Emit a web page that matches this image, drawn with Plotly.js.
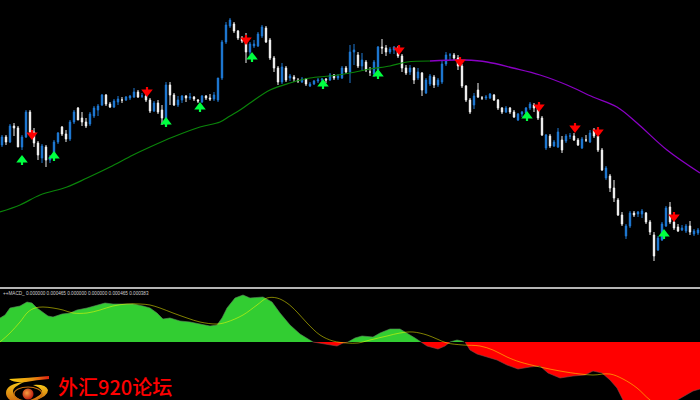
<!DOCTYPE html>
<html>
<head>
<meta charset="utf-8">
<script src="https://cdn.plot.ly/plotly-3.0.1.min.js"></script>
<style>html,body{margin:0;padding:0;background:#000}#c{width:700px;height:400px}</style>
</head>
<body>
<div id="c"></div>
<script>
// Candles: one value per bar (vertical scale runs downwards)
const barOpen = [145,137,142,126,128,147,137,112,132,143,158,147,160,157,142,127,134,139,122,108,118,122,124,116,110,105,95,104,107,102,100,100,98,97,92,96,96,100,111,103,110,125,85,95,105,100,96,98,97,100,102,96,98,99,100,78,42,26,24,31,38,40,52,46,46,36,28,40,58,68,82,68,78,77,80,82,79,86,84,81,80,79,80,75,78,78,68,72,52,55,66,62,72,74,70,47,48,52,50,48,56,68,72,68,78,73,93,84,77,85,82,64,55,55,58,66,86,100,105,90,98,98,98,95,100,108,112,108,112,120,114,113,108,105,108,118,148,136,146,147,140,141,136,136,140,148,140,142,130,136,150,178,176,188,200,215,236,226,213,214,214,213,222,235,250,240,226,207,222,227,230,231,226,234,233];
const barHigh = [135,135,124,123,126,135,110,110,128,141,144,145,155,140,132,126,130,120,110,107,112,118,112,106,104,94,94,102,99,96,97,96,95,88,90,93,90,98,101,100,105,82,82,93,96,95,95,93,96,99,95,95,94,92,78,40,22,18,22,30,36,33,42,40,32,25,26,38,56,66,63,66,74,75,78,77,78,82,80,78,78,78,73,74,74,66,66,45,44,52,53,60,67,60,46,39,45,47,46,46,54,65,65,67,68,72,78,74,75,78,60,52,53,53,55,64,85,98,93,83,96,95,93,94,99,107,106,107,110,113,111,107,102,103,106,116,134,134,140,128,136,134,133,133,138,137,135,130,128,134,148,166,174,180,198,212,224,211,211,211,209,212,220,232,236,222,206,202,220,224,225,224,221,229,228];
const barLow = [147,145,143,136,146,150,138,134,147,160,163,167,163,160,144,136,142,141,124,120,126,128,126,118,116,106,106,108,108,105,103,101,100,98,98,98,102,113,112,114,125,127,105,106,107,103,102,100,101,103,103,100,101,101,102,80,44,28,33,40,43,63,55,48,47,38,43,60,72,85,84,82,81,82,83,83,86,87,85,83,82,83,81,80,80,79,74,83,65,68,70,72,76,77,72,54,56,54,54,58,72,75,75,84,80,96,94,86,88,87,84,66,60,60,70,88,102,114,109,98,100,100,99,101,110,114,113,114,118,121,117,115,110,112,120,136,150,148,147,148,153,143,139,141,146,149,142,143,138,152,171,180,192,202,216,226,239,228,217,217,218,224,235,261,251,241,227,224,230,232,231,233,235,236,235];
const barClose = [137,142,126,128,147,137,112,132,143,155,146,160,157,142,133,134,139,122,112,120,122,126,114,108,106,95,104,107,101,99,100,97,96,92,97,96,100,111,103,112,118,85,95,105,100,96,98,97,99,101,96,98,99,95,78,42,25,20,31,38,41,52,44,44,34,27,42,58,68,82,67,80,76,79,81,79,84,84,81,80,79,80,75,78,76,68,72,52,50,66,60,70,72,62,47,48,52,49,47,56,68,73,68,80,72,90,80,76,85,80,64,55,55,58,66,86,100,112,96,97,98,97,94,100,108,112,108,112,117,114,112,108,104,108,118,135,135,146,142,132,150,136,136,140,145,139,140,133,136,150,170,168,188,198,215,224,226,213,215,212,211,222,232,256,238,224,208,222,228,231,228,226,232,231,230];

// Moving average, green part then purple part
const maGreenBar = [-0.5,4.5,9.5,16.25,21.25,27,32.75,37,42.75,49.5,54.5,57,59.5,62,67,72,77,82,87,92,97,101.25,107];
const maGreenY   = [212,205,195,187,178,167,155,147,137,127,122,116,110,103,90,83,78,76,73,69,66,62,61];
const maPurpleBar = [107,113.75,115.75,121.25,127.75,134.5,141.25,147.75,153.75,158.75,166.25,174.5];
const maPurpleY   = [61,60,60,62,68,75,85,97,107,123,150,173];

// Signal arrows: the y is the middle of each arrow head
const upBar = [5,13,41,49.5,62.5,80.25,94,131.25,165.5];
const upHead = [160,156,122,107,57,84,74,116,234];
const upTail = [5,5,5,5,5,5,5,5,5];
const upNone = [0,0,0,0,0,0,0,0,0];
const downBar = [7.5,36.25,61,99.25,114.5,134.25,143.25,149,168];
const downHead = [135,92,40,50,62,107,128,132,217];
const downTail = [5,5,5,5,5,5,5,5,5];
const downNone = [0,0,0,0,0,0,0,0,0];

// MACD histogram heights above (green) and below (red) the zero line
const greenBar = [-0.5,0.75,2,3.25,4.5,6.25,7.5,8.75,10,11.5,12.75,15,17,18.75,21.25,23.75,25.75,27.75,30.25,32.75,35.25,37,38.75,40.25,42,44.5,47,49.5,52,53.75,55,56.25,57.75,58.25,60.25,62,65.25,67.5,69.5,72,74.5,77.75,80,86.5,88.25,90,92.75,94.5,97,99.5,101.25,103.25,104.75,108,112,113.75,115,115.5];
const greenH   = [24,27,34,35,36,40,39,34,30,26,25,28,29,32,34,37,39,38,38,38,36,34,29,23,24,21,20,18,16,17,24,34,42,44,47,44,45,40,29,17,8,0,null,0,4,6,5,9,13,13,9,4,0,null,0,2,1,0];
const redBar   = [77.75,80.75,83.75,85.25,86.5,95,104.75,106.25,109,110.75,112,114,115.75,117,118.75,121.25,123.75,126.25,129,132,134.5,136.5,139.5,142.75,145.75,147.75,150,152,153.75,155.25,159.5,164.5,168.75,169.5,172.75,174.5];
const redH     = [0,-2,-4,-1,0,null,0,-4,-7,-4,0,null,0,-8,-12,-15,-18,-23,-27,-25,-24,-31,-36,-34,-33,-29,-31,-38,-46,-58,-68,-68,-58,-56,-49,-47];
// Signal line of the MACD
const signalBar = [-0.5,2,4.5,6.5,8.25,10.25,12.75,15.25,17.75,21.25,24.5,27.75,31.25,34.5,37,39.5,42.75,46.25,49.5,53.75,56.25,60.25,63.75,66.25,68.75,71.25,73.75,76.25,79.5,82.75,86.25,89,92,96.25,99.5,102.75,106.25,108.75,111.25,115.25,119.5,122.75,126.25,129.5,134.5,139.5,144.5,147.75,152,155.25,158.75,162,169.5];
const signalH   = [0,9,20,30,34,35,34,32,29,29,32,36,38,38,37,34,29,24,20,18,20,27,37,44,44,39,30,19,7,1,-1,-1,2,6,9,10,7,3,-1,-3,-4,-8,-15,-20,-25,-29,-32,-33,-32,-37,-46,-58,-78];

const title = "++MACD_ 0.000000 0.000465 0.000000 0.000000 0.000465 0.000383";
const brand = "外汇920论坛";

const logo = 'data:image/svg+xml;utf8,' + encodeURIComponent(
`<svg xmlns="http://www.w3.org/2000/svg" width="60" height="28" viewBox="0 0 60 28">
<defs><linearGradient id="g" x1="0" y1="0" x2="1" y2="0"><stop offset="0" stop-color="#f8d010"/><stop offset=".6" stop-color="#e89010"/><stop offset="1" stop-color="#e02010"/></linearGradient>
<linearGradient id="h" x1="0" y1="0" x2="0" y2="1"><stop offset="0" stop-color="#f8c818"/><stop offset="1" stop-color="#d07010"/></linearGradient>
<radialGradient id="b" cx=".4" cy=".4" r=".6"><stop offset="0" stop-color="#f8a040"/><stop offset="1" stop-color="#c02010"/></radialGradient></defs>
<path d="M9 7 Q28 6 49 4 L49 7 Q36 8 26 10 Q14 11 9 7Z" fill="url(#g)"/>
<path d="M6 21 Q6 12 24 10 Q13 15 13 19 Q13 24 21 28 L10 28 Q6 25 6 21Z" fill="url(#h)"/>
<path d="M33 13 Q46 12 48 18 Q48 24 36 28 L30 28 Q43 23 42 19 Q40 15 33 13Z" fill="url(#h)"/>
<ellipse cx="28" cy="22" rx="14" ry="7" fill="none" stroke="#c87010" stroke-width="1.2"/>
<circle cx="28" cy="22" r="5.5" fill="url(#b)"/>
</svg>`);

const traces = [
  {type:'candlestick', open:barOpen, high:barHigh, low:barLow, close:barClose, xaxis:'x', yaxis:'y',
   increasing:{line:{color:'#f0f0f0',width:1}, fillcolor:'#f0f0f0'},
   decreasing:{line:{color:'#1e78d2',width:1}, fillcolor:'#1e78d2'},
   whiskerwidth:0, hoverinfo:'skip', showlegend:false},
  {type:'scatter', mode:'lines', x:maGreenBar, y:maGreenY, line:{color:'#0a840a',width:1.2,shape:'spline'}, hoverinfo:'skip'},
  {type:'scatter', mode:'lines', x:maPurpleBar, y:maPurpleY, line:{color:'#8a00c4',width:1.3,shape:'spline'}, hoverinfo:'skip'},
  {type:'scatter', mode:'markers', x:upBar, y:upHead,
   marker:{symbol:'triangle-up', size:10, color:'#00ff40', line:{width:0}},
   error_y:{type:'data', symmetric:false, array:upTail, arrayminus:upNone, thickness:2.2, width:0, color:'#00ff40'}, hoverinfo:'skip'},
  {type:'scatter', mode:'markers', x:downBar, y:downHead,
   marker:{symbol:'triangle-down', size:10, color:'#ff0000', line:{width:0}},
   error_y:{type:'data', symmetric:false, array:downNone, arrayminus:downTail, thickness:2.2, width:0, color:'#ff0000'}, hoverinfo:'skip'},
  {type:'scatter', mode:'lines', x:greenBar, y:greenH, yaxis:'y2', fill:'tozeroy', fillcolor:'#32cd32',
   line:{color:'#5a8a5a',width:0.6}, hoverinfo:'skip'},
  {type:'scatter', mode:'lines', x:redBar, y:redH, yaxis:'y2', fill:'tozeroy', fillcolor:'#ff0000',
   line:{color:'#8a4a4a',width:0.6}, hoverinfo:'skip'},
  {type:'scatter', mode:'lines', x:signalBar, y:signalH, yaxis:'y2', line:{color:'rgba(255,255,0,0.5)',width:1,shape:'spline'}, hoverinfo:'skip'}
];

const layout = {
  width:700, height:400, margin:{l:0,r:0,t:0,b:0},
  paper_bgcolor:'#000', plot_bgcolor:'#000', showlegend:false, boxgap:0.5,
  xaxis:{range:[-0.5,174.5], visible:false, fixedrange:true, rangeslider:{visible:false}},
  yaxis:{range:[400,0], visible:false, fixedrange:true},
  yaxis2:{range:[-58,342], visible:false, fixedrange:true, overlaying:'y'},
  shapes:[{type:'line', xref:'paper', yref:'paper', x0:0, x1:1, y0:0.28, y1:0.28, line:{color:'#b4b4b4',width:2}}],
  images:[{source:logo, xref:'paper', yref:'paper', x:0, y:0.07, sizex:60/700, sizey:0.07, xanchor:'left', yanchor:'top', sizing:'stretch', layer:'above'}],
  annotations:[
    {text:title, xref:'paper', yref:'paper', x:0.001, y:0.2675, xanchor:'left', yanchor:'middle', showarrow:false,
     font:{family:'Liberation Sans', size:4.65, color:'#d0d0d0'}},
    {text:brand, xref:'paper', yref:'paper', x:56/700, y:-0.008, xanchor:'left', yanchor:'bottom', showarrow:false,
     font:{family:'Noto Sans CJK SC', size:20, weight:500, color:'#ff0000'}}
  ]
};
Plotly.newPlot('c', traces, layout, {displayModeBar:false, staticPlot:true});
</script>
</body>
</html>
